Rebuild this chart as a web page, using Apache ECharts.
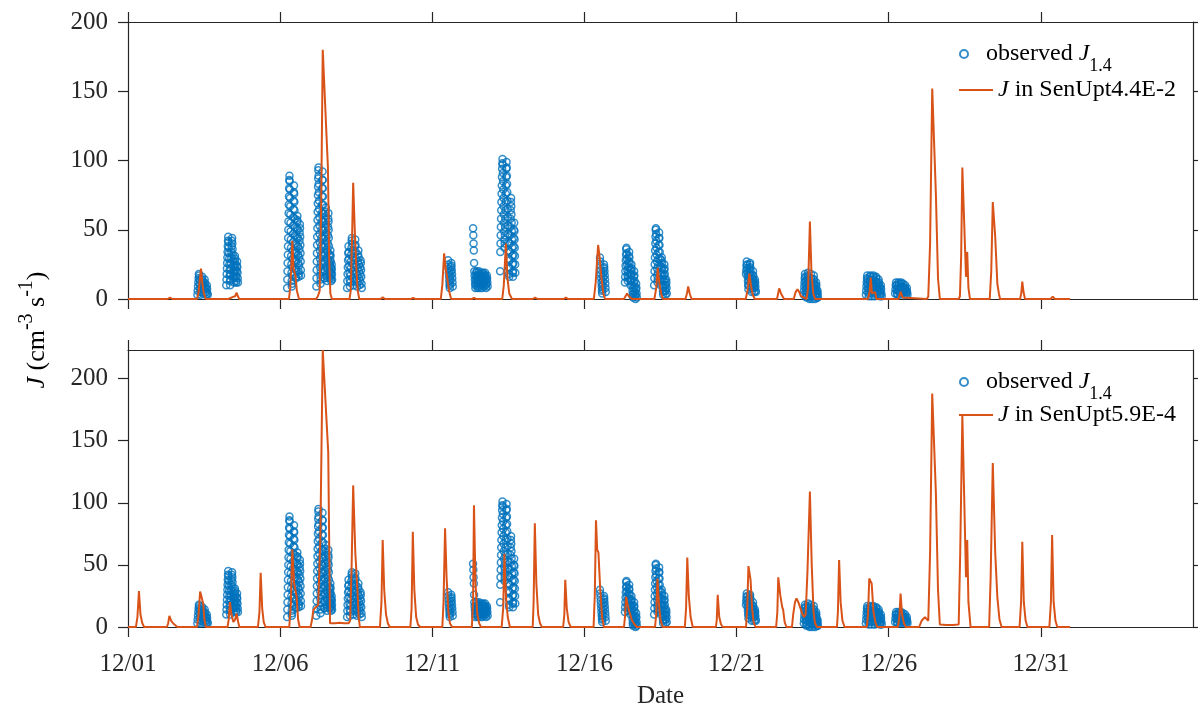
<!DOCTYPE html>
<html><head><meta charset="utf-8">
<script src="https://cdn.jsdelivr.net/npm/echarts@6/dist/echarts.min.js"></script>
<style>html,body{margin:0;padding:0;background:#fff}#c{width:1198px;height:710px}</style>
</head><body><div id="c"></div>
<script>
// ---- tick labels (x in days since 12/01 00:00) ----
const xTickValues = [0, 5, 10, 15, 20, 25, 30];
const xTickLabels = ['12/01', '12/06', '12/11', '12/16', '12/21', '12/26', '12/31'];
const yTickValues = [0, 50, 100, 150, 200];
const topYMax = 200;
const bottomYMax = 223;

// ---- observed J1.4 : clusters sampled at regular steps ----
const obsStart = [2.28, 3.23, 5.23, 6.19, 7.20, 10.52, 11.34, 12.23, 15.51, 16.33, 17.29, 20.31, 22.21, 24.25, 25.21];
const obsStep  = [0.01, 0.0071, 0.0055, 0.0047, 0.0079, 0.008, 0.0084, 0.006, 0.0083, 0.0074, 0.0066, 0.0079, 0.0076, 0.0091, 0.011];
const obsValues = [
  [3,6,9,12,15,18,17,14,11,8,5,3,5,8,11,14,16,13,10,7,4,6,9,12,14,11,8,5,3,5,8,10,7,4,3],
  [10,14,18,22,26,30,34,38,42,45,41,37,33,29,25,21,17,13,10,14,18,22,26,30,34,38,42,44,40,36,32,28,24,20,16,12,15,19,23,27,31,29,25,21,17,13,12,16,20,24,27,23,19,15,12],
  [8,14,20,26,32,38,44,50,56,62,68,74,80,86,89,85,79,73,67,61,55,49,43,37,31,25,19,13,9,11,17,23,29,35,41,47,53,59,65,71,77,82,76,70,64,58,52,46,40,34,28,22,16,15,21,27,33,39,45,51,57,60,56,50,44,38,32,26,20,16,18,24,30,36,42,48,54,51,45,39,33,27,21,17],
  [9,15,21,27,33,39,45,51,57,63,69,75,81,87,93,95,89,83,77,71,65,59,53,47,41,35,29,23,17,11,14,20,26,32,38,44,50,56,62,68,74,80,86,92,86,80,74,68,62,56,50,44,38,32,26,20,15,15,21,27,33,39,45,51,57,63,66,60,54,48,42,36,30,24,18,13,16,22,28,34,40,46,52,58,62,56,50,44,38,32,26,20,15,16,20,24,28,32,35,31,27,23,19,15,13,17,21,25,22,18,14],
  [8,13,18,23,28,33,38,34,29,24,19,14,9,12,17,22,27,32,37,42,44,40,35,30,25,20,15,10,13,18,23,28,33,38,43,39,34,29,24,19,14,9,12,17,22,27,32,35,30,25,20,15,10,13,18,23,28,26,21,16,11,8],
  [28,25,22,19,16,13,10,8,11,14,17,20,23,26,24,21,18,15,12,9],
  [51,46,40,35,26,20,17,14,11,8,10,13,16,19,20,17,14,11,8,9,12,15,18,20,17,14,11,8,10,13,16,19,17,14,11,8,10,13,16,19,18,15,12,9,11,14,17,19,16,13,10,8,11,14,17,15,12,9],
  [20,34,40,46,52,58,64,70,76,82,88,94,98,101,97,91,85,79,73,67,61,55,49,43,37,40,46,52,58,64,70,76,82,88,94,99,95,89,83,77,71,65,59,53,47,41,35,29,23,18,16,22,28,34,40,46,52,58,64,70,73,67,61,55,49,43,37,31,25,19,16,20,26,32,38,44,50,55,49,43,37,31,25,19],
  [30,27,24,21,18,15,12,9,6,4,7,10,13,16,19,22,25,23,20,17,14,11,8,5],
  [12,16,20,24,28,32,36,37,33,29,25,21,17,13,15,19,23,27,31,34,30,26,22,18,14,10,13,17,21,25,22,18,14,10,6,3,1,4,8,12,16,20,17,13,9,5,2,0,3,7,11,8,4,1],
  [10,15,20,25,30,35,40,45,50,51,47,42,37,32,27,22,17,12,14,19,24,29,34,39,44,48,44,39,34,29,24,19,14,10,13,18,23,28,30,26,22,18,14,10,6,3,5,9,13,17,21,25,22,18,14,10,6,3,6,10,14,12,8,4],
  [18,21,24,27,25,22,19,16,13,10,7,10,13,16,19,22,25,26,23,20,17,14,11,8,5,8,11,14,17,20,17,14,11,8,5,8,11,14,12,9,6,5],
  [3,6,9,12,15,18,16,13,10,7,4,1,2,5,8,11,14,17,19,16,13,10,7,4,1,0,3,6,9,12,15,18,15,12,9,6,3,0,2,5,8,11,14,17,14,11,8,5,2,0,3,6,9,12,10,7,4,1,3,6,4,1],
  [3,6,9,12,15,17,14,11,8,5,2,4,7,10,13,16,17,14,11,8,5,2,4,7,10,13,16,17,14,11,8,5,2,4,7,10,13,16,15,12,9,6,3,5,8,11,14,12,9,6,3,2,5,8,10,7,4,2],
  [4,7,10,12,10,7,4,3,6,9,12,11,8,5,3,5,8,11,12,9,6,4,6,9,11,8,5,3,5,8,10,7,4,3,6,8,5,3]
];

// ---- simulated J, [day, value] ----
const lineTop = [
  [0,0],[1.30,0],[1.38,1],[1.46,0],
  [2.27,0],[2.32,5],[2.36,14],[2.40,22],[2.44,12],[2.49,4],[2.56,0],
  [3.30,0],[3.35,1],[3.45,1.5],[3.52,2],[3.57,4.5],[3.61,2],[3.66,0],
  [5.29,0],[5.33,8],[5.37,25],[5.40,42],[5.44,22],[5.50,17],[5.55,6],[5.62,0],
  [6.18,0],[6.24,2],[6.30,6],[6.35,70],[6.40,180],[6.57,95],[6.61,30],[6.65,4],[6.70,0],
  [7.28,0],[7.32,6],[7.36,40],[7.40,84],[7.46,45],[7.51,20],[7.55,6],[7.60,0],
  [8.30,0],[8.37,1.2],[8.45,0],
  [9.30,0],[9.37,0.8],[9.44,0],
  [10.28,0],[10.33,10],[10.39,33],[10.44,22],[10.50,14],[10.55,6],[10.62,0],
  [11.30,0],[11.37,0.8],[11.44,0],
  [12.30,0],[12.35,10],[12.42,40],[12.47,15],[12.53,4],[12.62,0],
  [13.30,0],[13.38,1],[13.46,0],
  [14.32,0],[14.39,1],[14.46,0],
  [15.31,0],[15.37,12],[15.45,39],[15.50,30],[15.56,15],[15.62,4],[15.68,0],
  [16.30,0],[16.35,2],[16.40,4],[16.46,2],[16.50,3],[16.56,0],
  [17.30,0],[17.36,8],[17.41,22.6],[17.46,12],[17.52,4],[17.58,0],
  [18.32,0],[18.37,4],[18.41,9],[18.46,4],[18.52,0],
  [20.30,0],[20.36,6],[20.42,18.5],[20.47,10],[20.53,3],[20.60,0],
  [21.33,0],[21.40,7.7],[21.46,4],[21.51,5],[21.56,0],
  [21.88,0],[21.94,5],[22.00,7],[22.06,5],[22.12,2],[22.30,0],[22.35,8],[22.41,56],[22.46,20],[22.52,4],[22.58,0],
  [23.32,0],[23.38,0.7],[23.44,0],
  [24.32,0],[24.37,5],[24.41,15.4],[24.45,4],[24.50,3],[24.55,5],[24.60,0],
  [25.32,0],[25.39,5.3],[25.46,1],[25.52,0],
  [26.25,0],[26.30,1.7],[26.36,40],[26.43,152],[26.55,76],[26.62,15],[26.68,0],
  [26.95,0],[27.00,1],[27.05,0],
  [27.30,0],[27.34,2],[27.38,30],[27.42,95],[27.54,16],[27.58,34],[27.62,8],[27.67,0],
  [28.32,0],[28.37,20],[28.42,70],[28.50,45],[28.57,11],[28.62,4],[28.66,0],
  [29.32,0],[29.36,5],[29.39,12.5],[29.43,5],[29.48,0],
  [30.32,0],[30.39,1.7],[30.46,0],
  [30.96,0]
];
const lineBottom = [
  [0,0],[0.26,0],[0.31,8],[0.36,29],[0.41,10],[0.47,3],[0.53,0],
  [1.28,0],[1.32,3],[1.36,9],[1.42,5],[1.48,3],[1.54,1.5],[1.62,0],
  [2.27,0],[2.32,10],[2.37,28.5],[2.42,24],[2.47,19],[2.51,6],[2.56,0],
  [3.27,0],[3.31,6],[3.35,20],[3.40,10],[3.46,4],[3.52,6],[3.57,11],[3.62,4],[3.66,0],
  [4.27,0],[4.32,12],[4.36,43.7],[4.41,15],[4.46,4],[4.52,0],
  [5.30,0],[5.35,18],[5.40,62.5],[5.46,35],[5.54,25],[5.59,6],[5.64,0],
  [6.00,0],[6.05,6],[6.09,13.7],[6.17,16],[6.25,17.7],[6.32,70],[6.40,223],[6.58,141],[6.64,3],[6.80,3],[6.95,3.5],[7.10,3],[7.25,3],[7.30,5],
  [7.35,50],[7.40,114],[7.47,60],[7.54,30],[7.58,8],[7.62,0],
  [8.28,0],[8.33,20],[8.37,70],[8.42,30],[8.48,10],[8.54,3],[8.60,0],
  [9.28,0],[9.32,15],[9.36,76.7],[9.41,30],[9.47,8],[9.53,2],[9.60,0],
  [10.33,0],[10.37,20],[10.42,79.5],[10.47,40],[10.53,12],[10.58,3],[10.65,0],
  [11.30,0],[11.34,20],[11.37,98],[11.42,35],[11.48,10],[11.54,3],[11.60,0],
  [12.28,0],[12.33,15],[12.37,59],[12.42,25],[12.48,8],[12.55,0],
  [13.30,0],[13.33,20],[13.37,83.5],[13.42,35],[13.48,10],[13.54,3],[13.60,0],
  [14.30,0],[14.34,10],[14.37,38],[14.42,15],[14.48,4],[14.55,0],
  [15.30,0],[15.34,25],[15.38,86],[15.42,62],[15.46,60],[15.52,30],[15.58,8],[15.64,0],
  [16.30,0],[16.34,10],[16.37,24.4],[16.42,18],[16.48,12],[16.55,6],[16.62,3],[16.72,0],
  [17.32,0],[17.36,10],[17.40,39],[17.45,18],[17.50,6],[17.57,0],
  [18.30,0],[18.34,15],[18.38,56],[18.43,25],[18.49,8],[18.56,0],
  [19.32,0],[19.35,6],[19.38,26],[19.43,8],[19.49,2],[19.55,0],
  [20.31,0],[20.35,15],[20.39,49],[20.46,38],[20.51,15],[20.56,4],[20.62,0],
  [21.30,0],[21.34,12],[21.37,40],[21.44,25],[21.50,16],[21.53,14],[21.58,4],[21.64,0],
  [21.82,0],[21.86,10],[21.92,20],[21.97,23],[22.03,20],[22.10,15],[22.17,10],[22.22,8],[22.27,10],[22.33,45],[22.41,109],[22.47,50],[22.53,12],[22.58,3],[22.64,0],
  [23.30,0],[23.33,12],[23.37,54],[23.42,20],[23.48,5],[23.55,0],
  [24.28,0],[24.32,10],[24.36,39],[24.44,35],[24.50,12],[24.56,4],[24.62,0],
  [25.30,0],[25.35,8],[25.39,27],[25.44,10],[25.50,3],[25.56,0],
  [26.00,0],[26.08,5],[26.19,8],[26.30,5],[26.36,60],[26.43,188],[26.55,108],[26.62,30],[26.68,2],[26.90,1.6],[27.10,1.6],[27.30,2],
  [27.35,60],[27.42,170.7],[27.54,40],[27.58,70],[27.62,20],[27.69,0],
  [28.30,0],[28.35,40],[28.42,132],[28.50,60],[28.57,24],[28.64,6],[28.71,0],
  [29.30,0],[29.35,20],[29.39,68.7],[29.44,20],[29.50,5],[29.56,0],
  [30.28,0],[30.33,20],[30.37,74],[30.42,20],[30.48,5],[30.54,0],
  [30.96,0]
];

// ---- build ----
const obsData = [];
obsValues.forEach((vals, i) => vals.forEach((v, j) => obsData.push([obsStart[i] + j * obsStep[i], v])));

const FONT = 'Liberation Serif';
const AX = '#262626';
const ORANGE = '#D95319';
const BLUE = '#0072BD';

function xAx(grid, pos, showLabel, name) {
  return {
    type: 'value', gridIndex: grid, position: pos, min: 0, max: 35, interval: 5,
    name: name || '', nameLocation: 'middle', nameGap: 57,
    nameTextStyle: {fontFamily: FONT, fontSize: 25, color: AX},
    axisLine: {show: true, onZero: false, lineStyle: {color: AX, width: 1.2}},
    axisTick: {show: true, inside: false, length: 10, customValues: xTickValues, lineStyle: {color: AX, width: 1.2}},
    axisLabel: {show: showLabel, margin: 25, customValues: xTickValues, fontFamily: FONT, fontSize: 25, color: AX,
      formatter: v => { const k = xTickValues.indexOf(Math.round(v)); return k >= 0 ? xTickLabels[k] : ''; }},
    splitLine: {show: false}
  };
}
function yAx(grid, pos, showLabel, max) {
  return {
    type: 'value', gridIndex: grid, position: pos, min: 0, max: max, interval: 50,
    axisLine: {show: true, onZero: false, lineStyle: {color: AX, width: 1.2}},
    axisTick: {show: true, inside: false, length: 10, customValues: yTickValues, lineStyle: {color: AX, width: 1.2}},
    axisLabel: {show: showLabel, margin: 20, customValues: yTickValues, fontFamily: FONT, fontSize: 25, color: AX},
    splitLine: {show: false}
  };
}
const rich = {
  t: {fontFamily: FONT, fontSize: 24, color: '#000'},
  i: {fontFamily: FONT, fontSize: 24, fontStyle: 'italic', color: '#000'},
  sub: {fontFamily: FONT, fontSize: 18, color: '#000', padding: [24, 0, 0, 0]}
};
function legendFmt(name) {
  if (name === 'observed J1.4') return '{t|observed }{i|J}{sub|1.4}';
  return '{i|J}{t|' + name.slice(1) + '}';
}
function leg(name, top, isLine) {
  return {data: [{name: name, icon: isLine ? 'rect' : undefined}], left: 959, top: top, padding: 0,
    itemWidth: 34, itemHeight: isLine ? 2 : 8,
    selectedMode: false, formatter: legendFmt, textStyle: {rich: rich}};
}

const option = {
  animation: false,
  backgroundColor: '#fff',
  grid: [
    {left: 128, top: 22, width: 1065, height: 277},
    {left: 128, top: 350, width: 1065, height: 277}
  ],
  xAxis: [xAx(0, 'bottom', false), xAx(0, 'top', false), xAx(1, 'bottom', true, 'Date'), xAx(1, 'top', false)],
  yAxis: [yAx(0, 'left', true, topYMax), yAx(0, 'right', false, topYMax), yAx(1, 'left', true, bottomYMax), yAx(1, 'right', false, bottomYMax)],
  legend: [
    leg('observed J1.4', 42, false), leg('J in SenUpt4.4E-2', 78, true),
    leg('observed J1.4', 370, false), leg('J in SenUpt5.9E-4', 403, true)
  ],
  graphic: [{
    type: 'text', x: 37, y: 330, rotation: Math.PI / 2,
    style: {
      text: '{i|J}{t| (cm}{sup|-3}{t| s}{sup|-1}{t|)}',
      align: 'center', verticalAlign: 'middle',
      rich: {
        t: {fontFamily: FONT, fontSize: 26, color: AX},
        i: {fontFamily: FONT, fontSize: 26, fontStyle: 'italic', color: AX},
        sup: {fontFamily: FONT, fontSize: 20, color: AX, padding: [0, 0, 20, 0]}
      }
    }
  }],
  series: [
    {name: 'observed J1.4', type: 'scatter', xAxisIndex: 0, yAxisIndex: 0, data: obsData, symbol: 'circle', symbolSize: 7,
      itemStyle: {color: 'rgba(255,255,255,0)', borderColor: BLUE, borderWidth: 1.5}},
    {name: 'J in SenUpt4.4E-2', type: 'line', xAxisIndex: 0, yAxisIndex: 0, data: lineTop, symbol: 'none', showSymbol: false,
      lineStyle: {color: ORANGE, width: 2}, itemStyle: {color: ORANGE}},
    {name: 'observed J1.4', type: 'scatter', xAxisIndex: 2, yAxisIndex: 2, data: obsData, symbol: 'circle', symbolSize: 7,
      itemStyle: {color: 'rgba(255,255,255,0)', borderColor: BLUE, borderWidth: 1.5}},
    {name: 'J in SenUpt5.9E-4', type: 'line', xAxisIndex: 2, yAxisIndex: 2, data: lineBottom, symbol: 'none', showSymbol: false,
      lineStyle: {color: ORANGE, width: 2}, itemStyle: {color: ORANGE}}
  ]
};
const chart = echarts.init(document.getElementById('c'), null, {renderer: 'canvas'});
chart.setOption(option);
</script>
</body></html>
